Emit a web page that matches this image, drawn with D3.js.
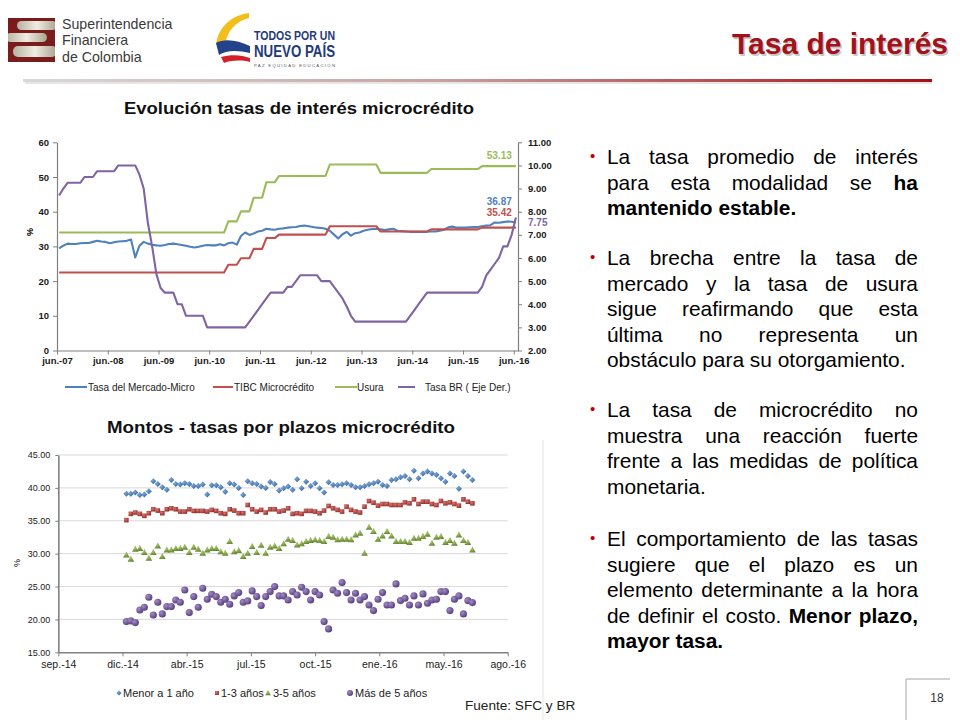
<!DOCTYPE html>
<html><head><meta charset="utf-8">
<script src="https://cdn.jsdelivr.net/npm/d3@7"></script>
<style>
body{margin:0;background:#fff;}
svg{font-family:"Liberation Sans",Arial,Helvetica,sans-serif;}
</style></head><body>
<svg id="c" width="960" height="720"></svg>
<script>
// ---------------- DATA ----------------
// Top chart: monthly, Jun-07 .. Jun-16 (109 months)
const topTickLabels = ["jun.-07","jun.-08","jun.-09","jun.-10","jun.-11","jun.-12","jun.-13","jun.-14","jun.-15","jun.-16"];
const leftTicks = [0,10,20,30,40,50,60];
const rightTicks = [2,3,4,5,6,7,8,9,10,11];
const seriesNamesTop = ["Tasa del Mercado-Micro","TIBC  Microcrédito","Usura","Tasa BR ( Eje Der.)"];

const tasaMercado = [29.4,30.2,30.8,30.7,30.7,30.9,31.0,31.0,31.3,31.6,
 31.4,31.3,30.9,31.2,31.4,31.5,31.6,32.0,26.8,30.2,
 31.3,30.8,30.5,30.3,30.2,30.4,30.7,30.8,30.6,30.4,
 30.2,29.9,29.7,29.9,30.2,30.4,30.3,30.3,30.6,30.3,
 30.9,31.1,30.5,33.0,34.0,33.3,33.7,34.3,34.5,35.1,
 34.9,34.8,35.1,35.2,35.4,35.5,35.6,35.9,36.0,35.8,
 35.6,35.4,35.3,35.1,34.5,33.4,32.3,33.5,34.2,33.1,
 33.8,34.0,34.5,34.8,35.0,35.0,34.9,34.7,34.9,35.1,
 34.5,34.4,34.3,34.2,34.2,34.2,34.2,34.2,34.3,34.3,
 34.5,34.8,35.5,35.7,35.4,35.4,35.4,35.5,35.6,35.6,
 35.8,36.0,36.1,36.9,36.8,37.0,37.2,37.1,36.87];
const tibcMicro = [
 22.5,22.5,22.5,22.5,22.5,22.5,22.5,22.5,22.5,22.5,
 22.5,22.5,22.5,22.5,22.5,22.5,22.5,22.5,22.5,22.5,
 22.5,22.5,22.5,22.5,22.5,22.5,22.5,22.5,22.5,22.5,
 22.5,22.5,22.5,22.5,22.5,22.5,22.5,22.5,22.5,22.5,
 24.7,24.7,24.7,26.6,26.6,26.6,29.3,29.3,29.3,32.4,
 32.4,32.4,33.4,33.4,33.4,33.4,33.4,33.4,33.4,33.4,
 33.4,33.4,33.4,33.4,35.8,35.8,35.8,35.8,35.8,35.8,
 35.8,35.8,35.8,35.8,35.8,35.8,34.3,34.3,34.3,34.3,
 34.3,34.3,34.3,34.3,34.3,34.3,34.3,34.3,34.9,34.9,
 34.9,34.9,34.9,34.9,34.9,34.9,34.9,34.9,34.9,34.9,
 35.42,35.42,35.42,35.42,35.42,35.42,35.42,35.42,35.42];
const usura = [
 34.0,34.0,34.0,34.0,34.0,34.0,34.0,34.0,34.0,34.0,
 34.0,34.0,34.0,34.0,34.0,34.0,34.0,34.0,34.0,34.0,
 34.0,34.0,34.0,34.0,34.0,34.0,34.0,34.0,34.0,34.0,
 34.0,34.0,34.0,34.0,34.0,34.0,34.0,34.0,34.0,34.0,
 37.2,37.2,37.2,40.1,40.1,40.1,44.0,44.0,44.0,48.5,
 48.5,48.5,50.3,50.3,50.3,50.3,50.3,50.3,50.3,50.3,
 50.3,50.3,50.3,50.3,53.6,53.6,53.6,53.6,53.6,53.6,
 53.6,53.6,53.6,53.6,53.6,53.6,51.2,51.2,51.2,51.2,
 51.2,51.2,51.2,51.2,51.2,51.2,51.2,51.2,52.3,52.3,
 52.3,52.3,52.3,52.3,52.3,52.3,52.3,52.3,52.3,52.3,
 53.13,53.13,53.13,53.13,53.13,53.13,53.13,53.13,53.13];
const tasaBR = [
 8.70,9.00,9.25,9.25,9.25,9.25,9.50,9.50,9.50,9.75,
 9.75,9.75,9.75,9.75,10.00,10.00,10.00,10.00,10.00,9.60,
 9.00,7.50,6.50,5.30,4.70,4.50,4.50,4.50,4.00,4.00,
 3.50,3.50,3.50,3.50,3.50,3.00,3.00,3.00,3.00,3.00,
 3.00,3.00,3.00,3.00,3.00,3.25,3.50,3.75,4.00,4.25,
 4.50,4.50,4.50,4.50,4.75,4.75,5.00,5.25,5.25,5.25,
 5.25,5.25,5.00,5.00,5.00,4.75,4.50,4.25,3.90,3.50,
 3.25,3.25,3.25,3.25,3.25,3.25,3.25,3.25,3.25,3.25,
 3.25,3.25,3.25,3.50,3.75,4.00,4.25,4.50,4.50,4.50,
 4.50,4.50,4.50,4.50,4.50,4.50,4.50,4.50,4.50,4.50,
 4.75,5.25,5.50,5.75,6.00,6.50,6.50,7.00,7.75];

// Bottom chart: weekly observations from 2 Jan 2015 (78 weeks)
const firstWeek = new Date(2015,0,2);
const botTickLabels = ["sep.-14","dic.-14","abr.-15","jul.-15","oct.-15","ene.-16","may.-16","ago.-16"];
const botYTicks = [15,20,25,30,35,40,45];
const seriesNamesBot = ["Menor a 1 año","1-3 años","3-5 años","Más de 5 años"];

const menor1 = [39.1,39.1,39.3,38.9,39.0,39.5,41.0,40.6,40.1,39.7,41.2,40.6,40.5,40.7,40.6,40.3,40.3,40.5,39.0,40.4,
 40.4,40.1,39.4,40.7,40.5,40.0,38.9,41.0,40.7,40.6,40.2,40.0,40.9,40.6,39.6,39.95,40.2,39.7,41.3,39.95,
 40.95,40.3,40.7,39.95,39.3,40.85,40.45,40.45,40.55,40.7,40.45,40.1,40.1,40.3,40.55,40.7,40.95,40.45,40.3,41.2,
 41.3,41.6,41.8,41.3,42.6,41.45,42.2,42.5,42.2,42.0,41.45,40.95,42.2,41.8,39.85,42.5,41.8,41.2];
const de1a3 = [35.1,36.05,36.25,36.05,35.75,36.15,36.75,36.55,36.15,36.75,36.9,36.75,36.4,36.4,36.75,36.5,36.5,36.5,36.4,36.65,
 36.5,36.15,36.05,36.75,36.55,36.15,36.15,37.4,36.75,36.4,36.65,36.25,36.75,36.75,36.4,36.55,36.9,36.05,36.15,36.05,
 36.5,36.5,36.4,36.15,36.55,37.25,36.9,36.65,36.4,37.15,36.65,36.4,36.25,37.15,38.0,37.75,37.3,37.55,37.55,37.4,
 37.4,37.4,37.8,37.65,38.26,37.55,37.9,37.9,37.55,37.4,38.0,37.65,37.8,37.55,37.3,38.26,37.9,37.65];
const de3a5 = [29.8,29.14,30.66,30.8,30.16,29.3,30.16,31.17,29.55,30.56,30.56,30.8,30.8,30.97,30.16,30.97,30.66,30.06,30.56,30.8,
 30.8,30.3,30.06,31.83,30.3,30.46,29.55,30.06,31.07,30.16,31.27,30.06,30.97,31.17,30.8,31.5,32.2,32.0,31.3,31.5,
 31.83,32.0,32.1,32.0,31.83,32.6,32.5,32.1,32.2,32.2,32.1,32.84,33.1,30.06,34.0,33.35,32.2,32.7,33.35,32.7,
 31.83,31.83,31.83,31.7,32.34,32.34,32.6,32.94,31.6,32.5,32.6,31.7,32.0,31.6,32.84,32.0,31.7,30.56];
const mas5 = [19.67,19.77,19.52,21.44,21.85,23.37,20.68,22.61,20.84,21.95,21.95,22.96,22.61,24.48,21.04,23.47,21.85,24.74,23.07,23.83,
 23.47,22.61,23.07,22.31,23.57,24.08,22.61,22.81,24.33,23.47,22.1,23.47,24.23,24.99,23.57,23.57,22.96,24.23,23.72,24.89,
 24.23,22.96,24.23,23.72,19.67,18.56,24.48,23.98,25.6,24.08,22.96,23.98,22.96,23.47,22.2,21.34,23.07,24.08,22.2,22.2,
 25.4,22.86,23.22,22.2,23.57,22.2,23.88,22.46,22.96,23.07,24.23,24.23,21.34,23.07,23.57,20.84,22.86,22.56];

// Text block
const paragraphs = [
 ["La tasa promedio de interés","para esta modalidad se **ha**","**mantenido estable.**"],
 ["La brecha entre la tasa de","mercado y la tasa de usura","sigue reafirmando que esta","última no representa un","obstáculo para su otorgamiento."],
 ["La tasa de microcrédito no","muestra una reacción fuerte","frente a las medidas de política","monetaria."],
 ["El comportamiento de las tasas","sugiere que el plazo es un","elemento determinante a la hora","de definir el costo. **Menor plazo,**","**mayor tasa.**"]
];

// ---------------- DRAWING ----------------
const svg = d3.select("#c");
const defs = svg.append("defs");

// ---- Header ----
const lg = defs.append("linearGradient").attr("id","sep").attr("x1","0").attr("x2","1");
lg.append("stop").attr("offset","0").attr("stop-color","#d9d9d9");
lg.append("stop").attr("offset","0.45").attr("stop-color","#c9a3a3");
lg.append("stop").attr("offset","1").attr("stop-color","#a50f15");
svg.append("rect").attr("x",25).attr("y",81).attr("width",907).attr("height",3).attr("fill","#e6e6e6");
svg.append("rect").attr("x",23).attr("y",79).attr("width",909).attr("height",3).attr("fill","url(#sep)");

// Superintendencia logo
const sg = defs.append("linearGradient").attr("id","sband").attr("x1","0").attr("x2","1");
sg.append("stop").attr("offset","0").attr("stop-color","#b7b29f");
sg.append("stop").attr("offset","0.5").attr("stop-color","#efece2");
sg.append("stop").attr("offset","1").attr("stop-color","#a9a38e");
svg.append("rect").attr("x",8).attr("y",18).attr("width",47).attr("height",44).attr("fill","#7b1c1c");
svg.append("rect").attr("x",17).attr("y",21).attr("width",40).attr("height",9).attr("rx",4.5).attr("fill","url(#sband)");
svg.append("rect").attr("x",6).attr("y",33).attr("width",41).attr("height",9).attr("rx",4.5).attr("fill","url(#sband)");
svg.append("rect").attr("x",13).attr("y",46).attr("width",44).attr("height",11).attr("rx",5).attr("fill","url(#sband)");
svg.append("rect").attr("x",55).attr("y",18).attr("width",3).attr("height",44).attr("fill","#fff");
svg.append("rect").attr("x",5).attr("y",18).attr("width",3).attr("height",44).attr("fill","#fff");
["Superintendencia","Financiera","de Colombia"].forEach((t,i)=>{
  svg.append("text").attr("x",62).attr("y",29+i*16.3).attr("font-size",14.2).attr("fill","#3a3a3a").text(t);
});

// Todos por un nuevo pais logo
svg.append("path").attr("d","M249,13 C232,15 218,27 216,45 L225,45 C227,31 236,21 249,18 Z").attr("fill","#f2bf1a");
svg.append("path").attr("d","M216,43 C224,38 238,40 250,46 L250,53 C238,50 226,50 219,55 Z").attr("fill","#22428a");
svg.append("path").attr("d","M221,57 C232,54 242,55 250,58 L250,62 C242,60 232,60 224,63 Z").attr("fill","#d62027");
svg.append("text").attr("x",254).attr("y",39.5).attr("font-size",12).attr("font-weight","bold").attr("fill","#1f3a78")
  .attr("textLength",81).attr("lengthAdjust","spacingAndGlyphs").text("TODOS POR UN");
svg.append("text").attr("x",254).attr("y",57).attr("font-size",16).attr("font-weight","bold").attr("fill","#1f3a78")
  .attr("textLength",81).attr("lengthAdjust","spacingAndGlyphs").text("NUEVO PAÍS");
svg.append("text").attr("x",254).attr("y",66.5).attr("font-size",4.3).attr("fill","#555")
  .attr("textLength",81).attr("lengthAdjust","spacing").text("PAZ  EQUIDAD  EDUCACIÓN");

// Title
svg.append("text").attr("x",949.5).attr("y",55.5).attr("text-anchor","end").attr("font-size",29).attr("font-weight","bold")
  .attr("fill","#c8c8c8").attr("textLength",216).attr("lengthAdjust","spacingAndGlyphs").text("Tasa de interés");
svg.append("text").attr("x",948).attr("y",54).attr("text-anchor","end").attr("font-size",29).attr("font-weight","bold")
  .attr("fill","#a3111a").attr("textLength",216).attr("lengthAdjust","spacingAndGlyphs").text("Tasa de interés");

// ---- Top chart ----
const gT = svg.append("g");
const xT = d3.scaleLinear().domain([0,109]).range([57,518]);
const yL = d3.scaleLinear().domain([0,60]).range([350.5,142.3]);
const yR = d3.scaleLinear().domain([2,11]).range([350.5,142.3]);
gT.append("text").attr("x",299).attr("y",114).attr("text-anchor","middle").attr("font-size",16.8).attr("font-weight","bold")
  .attr("fill","#111").attr("textLength",350).attr("lengthAdjust","spacingAndGlyphs").text("Evolución tasas de interés microcrédito");

function styleAxis(g, fs, fw){
  g.select(".domain").attr("stroke","#808080").attr("stroke-width",1.2);
  g.selectAll(".tick line").attr("stroke","#808080");
  g.selectAll(".tick text").attr("font-size",fs).attr("font-weight",fw).attr("fill","#1a1a1a")
   .attr("font-family",'"Liberation Sans",Arial,sans-serif');
}
const axL = gT.append("g").attr("transform","translate(57,0)")
  .call(d3.axisLeft(yL).tickValues(leftTicks).tickSize(4).tickSizeOuter(0).tickPadding(4).tickFormat(d3.format("d")));
styleAxis(axL,9.5,"bold");
const axR = gT.append("g").attr("transform","translate(518,0)")
  .call(d3.axisRight(yR).tickValues(rightTicks).tickSize(4).tickSizeOuter(0).tickPadding(6).tickFormat(d3.format(".2f")));
styleAxis(axR,9.5,"bold");
const axB = gT.append("g").attr("transform","translate(0,350.5)")
  .call(d3.axisBottom(xT).tickValues(d3.range(0,109,12)).tickSize(4).tickSizeOuter(0).tickPadding(3).tickFormat((d,i)=>topTickLabels[i]));
styleAxis(axB,9.5,"bold");
gT.append("text").attr("transform","translate(33,232) rotate(-90)").attr("text-anchor","middle")
  .attr("font-size",9).attr("font-weight","bold").text("%");

const topColors = ["#4f81bd","#c0504d","#9bbb59","#8064a2"];
const lineL = d3.line().x((d,i)=>xT(i+0.5)).y(d=>yL(d));
const lineR = d3.line().x((d,i)=>xT(i+0.5)).y(d=>yR(d));
[tasaMercado,tibcMicro,usura].forEach((s,k)=>{
  gT.append("path").attr("d",lineL(s)).attr("fill","none").attr("stroke",topColors[k]).attr("stroke-width",2.1).attr("stroke-linejoin","round");
});
gT.append("path").attr("d",lineR(tasaBR)).attr("fill","none").attr("stroke",topColors[3]).attr("stroke-width",2.1).attr("stroke-linejoin","round");

// end labels
const lastI = tasaMercado.length-1;
const endLbl = (txt,x,y,col,anchor)=>gT.append("text").attr("x",x).attr("y",y).attr("text-anchor",anchor)
  .attr("font-size",10).attr("font-weight","bold").attr("fill",col).text(txt);
endLbl(d3.format(".2f")(usura[lastI]), xT(lastI)-2, yL(usura[lastI])-7, topColors[2],"end");
endLbl(d3.format(".2f")(tasaMercado[lastI]), xT(lastI)-2, yL(tasaMercado[lastI])-18, topColors[0],"end");
endLbl(d3.format(".2f")(tibcMicro[lastI]), xT(lastI)-2, yL(tibcMicro[lastI])-12, topColors[1],"end");
endLbl(d3.format(".2f")(tasaBR[lastI]), xT(109)+10, yR(tasaBR[lastI])+9, topColors[3],"start");

// top legend
const legTop = [{x:65,w:22},{x:213,w:20},{x:335,w:22},{x:398,w:17}];
const legTextX = [88,234,357,425];
seriesNamesTop.forEach((n,k)=>{
  gT.append("line").attr("x1",legTop[k].x).attr("x2",legTop[k].x+legTop[k].w).attr("y1",387).attr("y2",387)
    .attr("stroke",topColors[k]).attr("stroke-width",2);
  gT.append("text").attr("x",legTextX[k]).attr("y",390.5).attr("font-size",10).attr("fill","#222").text(n);
});

// ---- Bottom chart ----
const gB = svg.append("g");
gB.append("text").attr("x",281).attr("y",433).attr("text-anchor","middle").attr("font-size",16.8).attr("font-weight","bold")
  .attr("fill","#111").attr("textLength",348).attr("lengthAdjust","spacingAndGlyphs").text("Montos - tasas por plazos microcrédito");
gB.append("line").attr("x1",543).attr("x2",543).attr("y1",440).attr("y2",720).attr("stroke","#e4e4e4");

const axStart = new Date(2014,8,18), axEnd = new Date(2016,7,18);
const xB = d3.scaleTime().domain([axStart,axEnd]).range([58.3,507.7]);
const yB = d3.scaleLinear().domain([15,45]).range([652.3,455]);
const botTickDates = botTickLabels.map((l,i)=>d3.timeDay.offset(axStart,100*i));
const weeks = menor1.map((v,i)=>d3.timeDay.offset(firstWeek,7*i));

gB.selectAll("line.grid").data(botYTicks.slice(1)).join("line").attr("class","grid")
  .attr("x1",58.3).attr("x2",507.7).attr("y1",d=>yB(d)).attr("y2",d=>yB(d)).attr("stroke","#d9d9d9").attr("stroke-width",1);
const bY = gB.append("g").attr("transform","translate(58.3,0)")
  .call(d3.axisLeft(yB).tickValues(botYTicks).tickSize(3).tickSizeOuter(0).tickPadding(5).tickFormat(d3.format(".2f")));
styleAxis(bY,9,"normal");
bY.select(".domain").attr("stroke-width",1.6);
const bX = gB.append("g").attr("transform","translate(0,652.3)")
  .call(d3.axisBottom(xB).tickValues(botTickDates).tickSize(4).tickSizeOuter(0).tickPadding(4).tickFormat((d,i)=>botTickLabels[i]));
styleAxis(bX,10.5,"normal");
bX.select(".domain").attr("stroke-width",1.6);
gB.append("text").attr("transform","translate(20,563) rotate(-90)").attr("text-anchor","middle").attr("font-size",9).text("%");

// gradients for markers
const mk = [
  {id:"gb",c1:"#7aa6dc",c2:"#2f5f9a"},
  {id:"gr",c1:"#d9706d",c2:"#8f2a27"},
  {id:"gg",c1:"#a8c86a",c2:"#5f7f2a"},
  {id:"gp",c1:"#a38cc6",c2:"#4e3673"}];
mk.forEach(m=>{
  const r = defs.append("radialGradient").attr("id",m.id).attr("cx","0.35").attr("cy","0.35").attr("r","0.75");
  r.append("stop").attr("offset","0").attr("stop-color",m.c1);
  r.append("stop").attr("offset","1").attr("stop-color",m.c2);
});
const shapes = [
  "M0,-3L3,0L0,3L-3,0Z",
  "M-2.3,-2.3H2.3V2.3H-2.3Z",
  "M0,-3.5L3.3,2.5H-3.3Z",
  d3.symbol().type(d3.symbolCircle).size(40)()
];
[menor1,de1a3,de3a5,mas5].forEach((s,k)=>{
  gB.append("g").selectAll("path").data(s).join("path")
    .attr("d",shapes[k]).attr("fill",`url(#${mk[k].id})`)
    .attr("transform",(d,i)=>`translate(${xB(weeks[i])},${yB(d)})`);
});

// bottom legend
const legB = [{mx:119,tx:123},{mx:217,tx:221},{mx:268,tx:273},{mx:350,tx:355}];
seriesNamesBot.forEach((n,k)=>{
  gB.append("path").attr("d",shapes[k]).attr("fill",`url(#${mk[k].id})`).attr("transform",`translate(${legB[k].mx},693) scale(0.85)`);
  gB.append("text").attr("x",legB[k].tx).attr("y",697).attr("font-size",11).attr("fill","#222").text(n);
});

svg.append("text").attr("x",465).attr("y",710).attr("font-size",13.6).attr("fill","#222").text("Fuente: SFC y BR");

// page number box
svg.append("path").attr("d","M906,720 V679 H950").attr("fill","none").attr("stroke","#a6a6a6").attr("stroke-width",1);
svg.append("text").attr("x",937).attr("y",702).attr("text-anchor","middle").attr("font-size",12).attr("fill","#333").text("18");

// ---- Right text block (justified) ----
const tx0 = 607, tx1 = 918, fs = 20.9, lh = 25.6;
const paraY = [164, 265, 417, 546];
const gText = svg.append("g");
paragraphs.forEach((lines,p)=>{
  gText.append("text").attr("x",590).attr("y",paraY[p]-3).attr("font-size",15).attr("fill","#c00000").text("•");
  let bold = false;
  lines.forEach((ln,li)=>{
    const y = paraY[p] + li*lh;
    const words = ln.split(" ").map(w=>{
      let b = bold, t = w;
      if (t.startsWith("**")) { b = true; bold = true; t = t.slice(2); }
      if (t.endsWith("**")) { t = t.slice(0,-2); bold = false; }
      return {t, b};
    });
    const nodes = words.map(w=>gText.append("text").attr("y",y).attr("font-size",fs)
      .attr("font-weight",w.b?"bold":"normal").attr("fill","#000").text(w.t));
    const widths = nodes.map(n=>n.node().getComputedTextLength());
    const total = d3.sum(widths);
    const isLast = li === lines.length-1;
    const gap = (isLast || words.length<2) ? fs*0.278 : (tx1-tx0-total)/(words.length-1);
    let x = tx0;
    nodes.forEach((n,i)=>{ n.attr("x",x); x += widths[i] + gap; });
  });
});
</script>
</body></html>
